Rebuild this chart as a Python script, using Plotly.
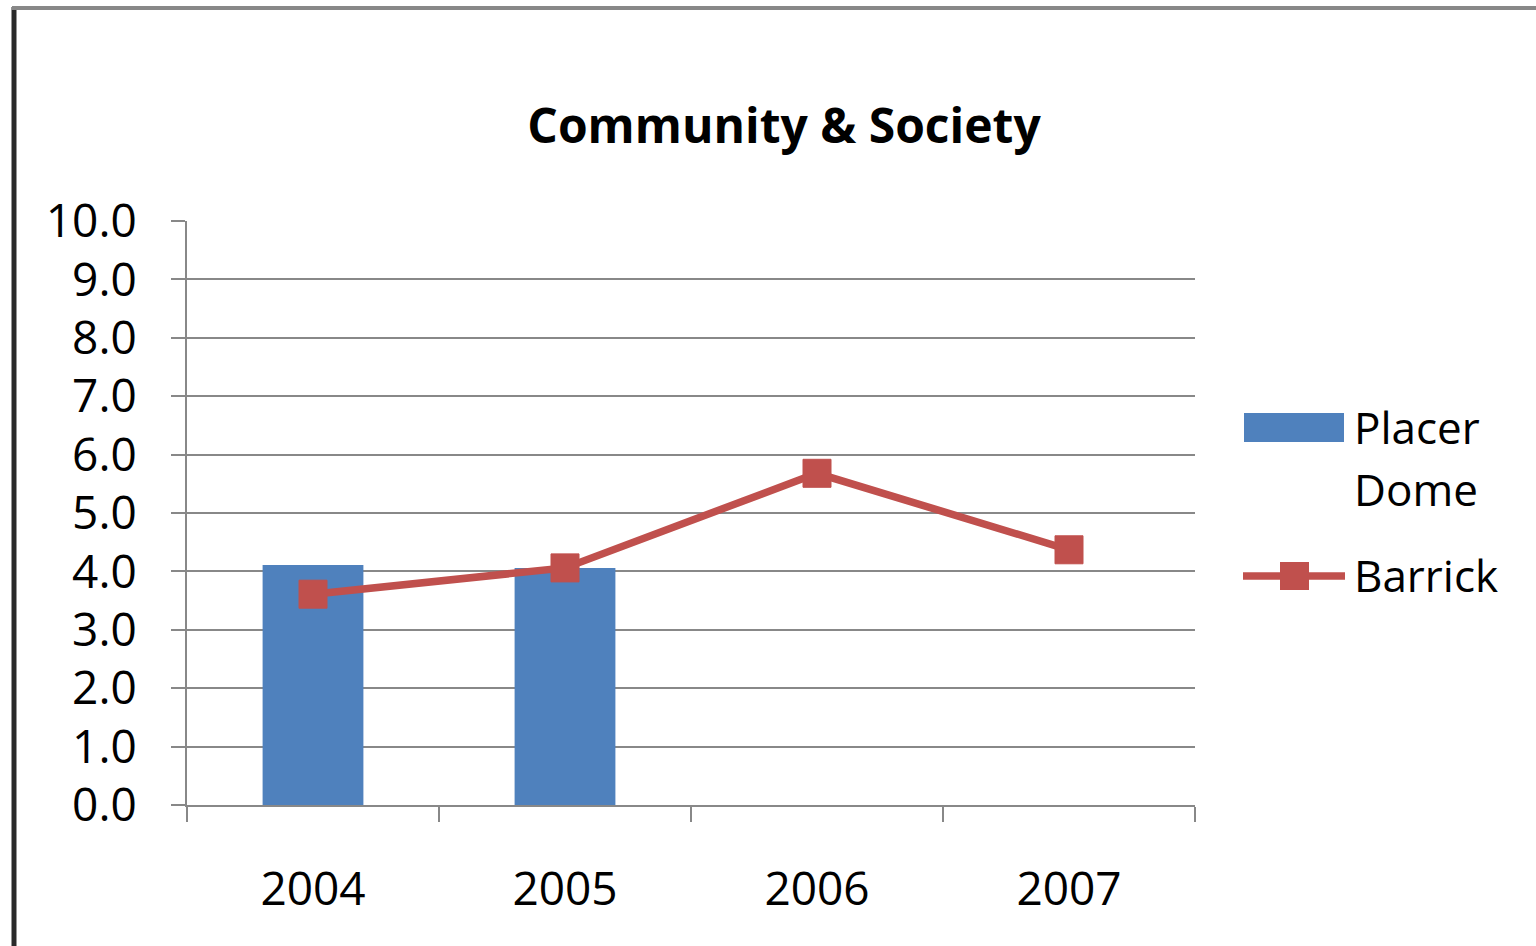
import plotly.graph_objects as go

years = ["2004", "2005", "2006", "2007"]
placer_dome = [4.11, 4.06, None, None]
barrick = [3.61, 4.06, 5.68, 4.37]
y_tick_values = [0, 1, 2, 3, 4, 5, 6, 7, 8, 9, 10]

W, H = 1536, 946
L, R, T, B = 187, 1195, 221, 805
FONT = "Open Sans"
BLUE = "#4F81BD"
RED = "#C0504D"
GRID = "#888888"


def px_x(px):
    return (px - L) / (R - L)


def px_y(py):
    return (B - py) / (B - T)


fig = go.Figure()
fig.add_trace(go.Bar(x=years, y=placer_dome, name="Placer Dome",
                     marker=dict(color=BLUE, line=dict(width=0)), showlegend=False))
fig.add_trace(go.Scatter(x=years, y=barrick, name="Barrick", mode="lines+markers",
                         line=dict(color=RED, width=7.5),
                         marker=dict(symbol="square", size=28, color=RED,
                                     line=dict(color=RED, width=1)),
                         showlegend=False))

shapes = []
# chart frame
shapes.append(dict(type="line", xref="paper", yref="paper",
                   x0=px_x(14), x1=px_x(14), y0=px_y(7), y1=px_y(960),
                   line=dict(color="#2a2a2a", width=5)))
shapes.append(dict(type="line", xref="paper", yref="paper",
                   x0=px_x(12), x1=px_x(1560), y0=px_y(8), y1=px_y(8),
                   line=dict(color="#888888", width=4)))
# custom legend
shapes.append(dict(type="rect", xref="paper", yref="paper",
                   x0=px_x(1244), x1=px_x(1344), y0=px_y(413), y1=px_y(442),
                   fillcolor=BLUE, line=dict(width=0)))
shapes.append(dict(type="line", xref="paper", yref="paper",
                   x0=px_x(1243), x1=px_x(1345), y0=px_y(576), y1=px_y(576),
                   line=dict(color=RED, width=7.5)))
shapes.append(dict(type="rect", xref="paper", yref="paper",
                   x0=px_x(1280), x1=px_x(1309), y0=px_y(562), y1=px_y(590),
                   fillcolor=RED, line=dict(width=0)))

annotations = []
for txt, cy in [("Placer", 427), ("Dome", 489), ("Barrick", 575)]:
    annotations.append(dict(text=txt, xref="paper", yref="paper",
                            x=px_x(1352), y=px_y(cy), xanchor="left", yanchor="middle",
                            showarrow=False, font=dict(family=FONT, size=44, color="#000000")))

fig.update_layout(
    width=W, height=H,
    margin=dict(l=L, r=W - R, t=T, b=H - B, pad=0),
    paper_bgcolor="white", plot_bgcolor="white",
    bargap=0.6,
    title=dict(text="<b>Community & Society</b>", x=784 / W, xref="container", xanchor="center",
               y=1 - 126 / H, yref="container", yanchor="middle",
               font=dict(family=FONT, size=48, color="#000000")),
    font=dict(family=FONT, size=46, color="#000000"),
    shapes=shapes, annotations=annotations,
    showlegend=False,
)
fig.update_xaxes(type="category", range=[-0.5, 3.5], showgrid=False,
                 tickson="boundaries", ticks="outside", ticklen=15, tickwidth=2, tickcolor=GRID,
                 showline=True, linecolor=GRID, linewidth=2,
                 tickfont=dict(family=FONT, size=46), ticklabelstandoff=43)
fig.update_yaxes(range=[0, 10], tickvals=y_tick_values, tickformat=".1f",
                 showgrid=True, gridcolor=GRID, gridwidth=2, zeroline=False,
                 ticks="outside", ticklen=14, tickwidth=2, tickcolor=GRID,
                 showline=True, linecolor=GRID, linewidth=2,
                 tickfont=dict(family=FONT, size=46), ticklabelstandoff=25)

fig.write_html("out.html")
